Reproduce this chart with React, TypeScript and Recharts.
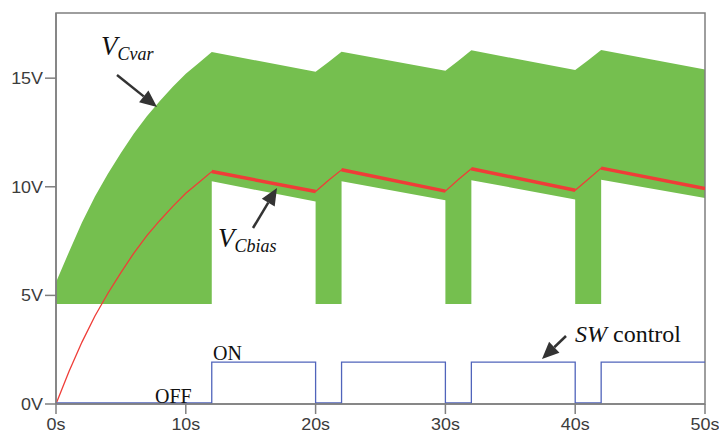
import React from "react";
import {
  ComposedChart,
  Area,
  Line,
  XAxis,
  YAxis,
  ReferenceArea,
} from "recharts";

// ---- Data ----
// Green envelope of V_Cvar: time [s], lower edge [V], upper edge [V]
const greenTime = [0, 1, 2, 3, 4, 5, 6, 7, 8, 9, 10, 11, 12, 12, 20, 20, 21, 22, 22, 30, 30, 31, 32, 32, 40, 40, 41, 42, 42, 50];
const greenLow = [4.6, 4.6, 4.6, 4.6, 4.6, 4.6, 4.6, 4.6, 4.6, 4.6, 4.6, 4.6, 4.6, 10.25, 9.32, 4.6, 4.6, 4.6, 10.25, 9.38, 4.6, 4.6, 4.6, 10.3, 9.42, 4.6, 4.6, 4.6, 10.32, 9.48];
const greenHigh = [5.6, 7.0, 8.35, 9.55, 10.6, 11.55, 12.45, 13.25, 13.95, 14.6, 15.2, 15.7, 16.2, 16.2, 15.3, 15.3, 15.75, 16.22, 16.22, 15.34, 15.34, 15.8, 16.28, 16.28, 15.38, 15.38, 15.82, 16.3, 16.3, 15.4];

// V_Cbias (red)
const biasTime = [0, 1, 2, 3, 4, 5, 6, 7, 8, 9, 10, 11, 12, 20, 21, 22, 30, 31, 32, 40, 41, 42, 50];
const biasVolt = [0, 1.5, 2.85, 4.05, 5.1, 6.05, 6.95, 7.75, 8.45, 9.1, 9.7, 10.2, 10.7, 9.78, 10.3, 10.78, 9.8, 10.33, 10.83, 9.84, 10.35, 10.86, 9.92];
// Discharge intervals where the red trace is drawn thick
const decayStart = [12, 22, 32, 42];
const decayEnd = [20, 30, 40, 50];

// SW control (blue)
const swTime = [0, 12, 12, 20, 20, 22, 22, 30, 30, 32, 32, 40, 40, 42, 42, 50];
const swLevel = [0.05, 0.05, 1.93, 1.93, 0.05, 0.05, 1.93, 1.93, 0.05, 0.05, 1.93, 1.93, 0.05, 0.05, 1.93, 1.93];

const xTicks = [0, 10, 20, 30, 40, 50];
const yTicks = [0, 5, 10, 15];

// ---- Built tables ----
const greenData = greenTime.map((t, i) => ({ t, band: [greenLow[i], greenHigh[i]] }));
const biasData = biasTime.map((t, i) => ({ t, v: biasVolt[i] }));
const biasThick: { t: number; v: number | null }[] = [];
decayStart.forEach((s, k) => {
  biasTime.forEach((t, i) => {
    if (t >= s && t <= decayEnd[k]) biasThick.push({ t, v: biasVolt[i] });
  });
  if (k < decayStart.length - 1) biasThick.push({ t: (decayEnd[k] + decayStart[k + 1]) / 2, v: null });
});
const swData = swTime.map((t, i) => ({ t, v: swLevel[i] }));

const GREEN = "#75bf4f";
const RED = "#ef3d38";
const BLUE = "#5064bb";
const AXIS = "#7f7f7f";
const TICK_FONT = "'Liberation Sans', Arial, sans-serif";
const SERIF = "'Liberation Serif', 'Times New Roman', serif";

const YTick = (props: any) => {
  const { x, y, payload } = props;
  return (
    <text
      x={0}
      y={0}
      transform={`translate(${x},${y + 6}) scale(1.12,1)`}
      textAnchor="end"
      fontFamily={TICK_FONT}
      fontSize={16}
      fill="#3c3c3c"
    >
      {`${payload.value}V`}
    </text>
  );
};

const XTick = (props: any) => {
  const { x, y, payload } = props;
  return (
    <text
      x={0}
      y={0}
      transform={`translate(${x},${y + 14}) scale(1.12,1)`}
      textAnchor="middle"
      fontFamily={TICK_FONT}
      fontSize={16}
      fill="#3c3c3c"
    >
      {`${payload.value}s`}
    </text>
  );
};

const Arrow = ({ x1, y1, x2, y2 }: { x1: number; y1: number; x2: number; y2: number }) => {
  const dx = x2 - x1;
  const dy = y2 - y1;
  const len = Math.sqrt(dx * dx + dy * dy);
  const ux = dx / len;
  const uy = dy / len;
  const hl = 17;
  const hw = 7.5;
  const bx = x2 - ux * hl;
  const by = y2 - uy * hl;
  const pts = `${x2},${y2} ${bx - uy * hw},${by + ux * hw} ${bx + uy * hw},${by - ux * hw}`;
  return (
    <g>
      <line x1={x1} y1={y1} x2={bx} y2={by} stroke="#333" strokeWidth={2.5} />
      <polygon points={pts} fill="#333" />
    </g>
  );
};

export default function App() {
  return (
    <div style={{ position: "absolute", left: 0, top: 0, width: 719, height: 438, background: "#fff" }}>
      <ComposedChart width={719} height={438} margin={{ top: 13, right: 14, bottom: 0, left: 0 }}>
        <XAxis
          type="number"
          dataKey="t"
          domain={[0, 50]}
          ticks={xTicks}
          allowDataOverflow
          stroke={AXIS}
          strokeWidth={1.5}
          tickSize={10}
          height={34}
          tick={<XTick />}
        />
        <YAxis
          type="number"
          domain={[0, 18]}
          ticks={yTicks}
          allowDataOverflow
          stroke={AXIS}
          strokeWidth={1.5}
          tickSize={11}
          width={56}
          tick={<YTick />}
        />
        <Area
          data={greenData}
          dataKey="band"
          type="linear"
          stroke="none"
          fill={GREEN}
          fillOpacity={1}
          isAnimationActive={false}
          dot={false}
          activeDot={false}
        />
        <Line
          data={biasData}
          dataKey="v"
          type="linear"
          stroke={RED}
          strokeWidth={1.3}
          dot={false}
          activeDot={false}
          isAnimationActive={false}
        />
        <Line
          data={biasThick}
          dataKey="v"
          type="linear"
          stroke={RED}
          strokeWidth={3.5}
          dot={false}
          activeDot={false}
          isAnimationActive={false}
        />
        <Line
          data={swData}
          dataKey="v"
          type="linear"
          stroke={BLUE}
          strokeWidth={1.3}
          dot={false}
          activeDot={false}
          isAnimationActive={false}
        />
        <ReferenceArea x1={0} x2={50} y1={0} y2={18} fill="none" stroke={AXIS} strokeWidth={1.5} ifOverflow="visible" />
      </ComposedChart>
      <svg
        width={719}
        height={438}
        style={{ position: "absolute", left: 0, top: 0, pointerEvents: "none" }}
      >
        <text x={101} y={55} fontFamily={SERIF} fontStyle="italic" fontSize={27} fill="#111">
          V<tspan fontSize={18} dy={5}>Cvar</tspan>
        </text>
        <Arrow x1={117} y1={75} x2={157} y2={107} />
        <text x={218} y={247} fontFamily={SERIF} fontStyle="italic" fontSize={27} fill="#111">
          V<tspan fontSize={18} dy={5}>Cbias</tspan>
        </text>
        <Arrow x1={253} y1={228} x2={277} y2={188} />
        <text x={575} y={342} fontFamily={SERIF} fontSize={24} fill="#111">
          <tspan fontStyle="italic">SW</tspan> control
        </text>
        <Arrow x1={566} y1={336} x2={542} y2={359} />
        <text x={213} y={360} fontFamily={SERIF} fontSize={20} fill="#111">
          ON
        </text>
        <text x={155} y={403} fontFamily={SERIF} fontSize={20} fill="#111">
          OFF
        </text>
      </svg>
    </div>
  );
}
